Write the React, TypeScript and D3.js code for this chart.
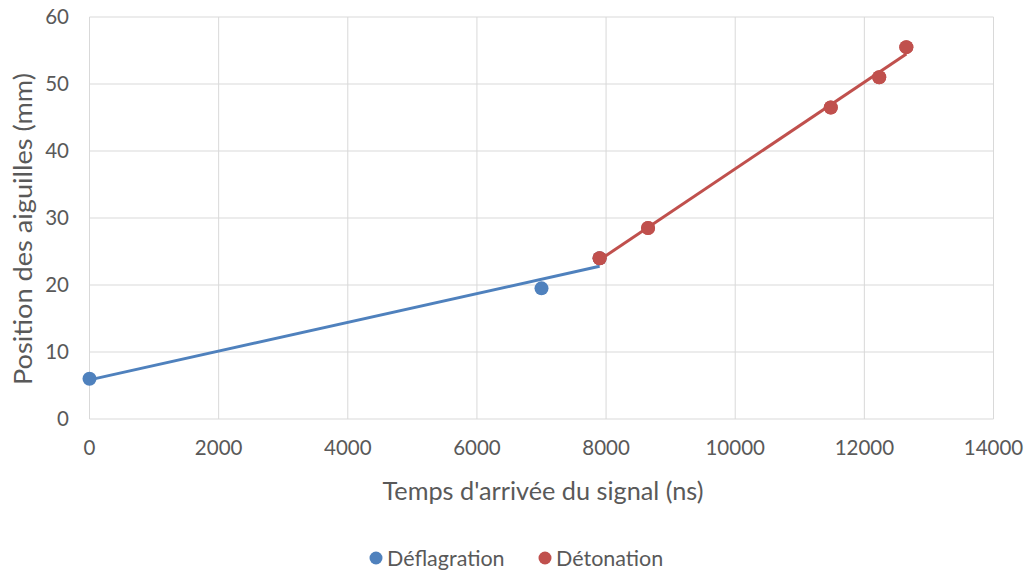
import React from "react";
import * as d3 from "d3";

const xTicks = [0, 2000, 4000, 6000, 8000, 10000, 12000, 14000];
const yTicks = [0, 10, 20, 30, 40, 50, 60];

const deflagrationX = [0, 7000, 7900];
const deflagrationY = [6, 19.5, 24];
const detonationX = [7900, 8650, 11480, 12230, 12650];
const detonationY = [24, 28.5, 46.5, 51, 55.5];

const seriesNames = ["Déflagration", "Détonation"];
const seriesColors = ["#4F81BD", "#C0504D"];

const W = 1030;
const H = 574;
const left = 89.5;
const right = 993.5;
const top = 17;
const bottom = 419;

function fit(xs: number[], ys: number[]) {
  const mx = d3.mean(xs)!;
  const my = d3.mean(ys)!;
  let sxy = 0, sxx = 0;
  xs.forEach((x, i) => {
    sxy += (x - mx) * (ys[i] - my);
    sxx += (x - mx) * (x - mx);
  });
  const slope = sxy / sxx;
  const intercept = my - slope * mx;
  const x0 = d3.min(xs)!;
  const x1 = d3.max(xs)!;
  return [
    [x0, intercept + slope * x0],
    [x1, intercept + slope * x1],
  ] as [number, number][];
}

export default function App() {
  const x = d3.scaleLinear().domain([0, 14000]).range([left, right]);
  const y = d3.scaleLinear().domain([0, 60]).range([bottom, top]);
  const line = d3
    .line<[number, number]>()
    .x((d) => x(d[0]))
    .y((d) => y(d[1]));

  const series = [
    { xs: deflagrationX, ys: deflagrationY },
    { xs: detonationX, ys: detonationY },
  ];
  const font = "Lato, 'Open Sans', sans-serif";
  const tickColor = "#595959";

  return (
    <svg
      width={W}
      height={H}
      style={{ position: "absolute", left: 0, top: 0, background: "#fff" }}
      fontFamily={font}
    >
      {yTicks.map((t) => (
        <line key={"gy" + t} x1={left} x2={right} y1={y(t)} y2={y(t)} stroke="#D9D9D9" strokeWidth={1} />
      ))}
      {xTicks.map((t) => (
        <line key={"gx" + t} x1={x(t)} x2={x(t)} y1={top} y2={bottom} stroke="#D9D9D9" strokeWidth={1} />
      ))}
      {yTicks.map((t) => (
        <text key={"ty" + t} x={69} y={y(t)} dy="0.36em" textAnchor="end" fontSize={20.5} fill={tickColor}>
          {t}
        </text>
      ))}
      {xTicks.map((t) => (
        <text key={"tx" + t} x={x(t)} y={448} dy="0.36em" textAnchor="middle" fontSize={20.5} fill={tickColor}>
          {t}
        </text>
      ))}
      <text
        x={543}
        y={491}
        dy="0.36em"
        textAnchor="middle"
        fontSize={25}
        fill={tickColor}
        textLength={321}
        lengthAdjust="spacingAndGlyphs"
      >
        Temps d'arrivée du signal (ns)
      </text>
      <text
        transform={`translate(23,229) rotate(-90)`}
        dy="0.36em"
        textAnchor="middle"
        fontSize={25}
        fill={tickColor}
        textLength={312}
        lengthAdjust="spacingAndGlyphs"
      >
        Position des aiguilles (mm)
      </text>
      {series.map((s, i) => (
        <g key={"s" + i}>
          {s.xs.map((v, j) => (
            <circle key={j} cx={x(v)} cy={y(s.ys[j])} r={7} fill={seriesColors[i]} />
          ))}
        </g>
      ))}
      {series.map((s, i) => (
        <path key={"l" + i} d={line(fit(s.xs, s.ys)) || ""} fill="none" stroke={seriesColors[i]} strokeWidth={3} />
      ))}
      {series.map((s, i) => (
        <g key={"m" + i}>
          {i === 1 &&
            s.xs.map((v, j) => (
              <circle key={j} cx={x(v)} cy={y(s.ys[j])} r={7} fill={seriesColors[i]} />
            ))}
        </g>
      ))}
      {seriesNames.map((n, i) => {
        const lx = [376, 545][i];
        return (
          <g key={"lg" + i}>
            <circle cx={lx} cy={558} r={6.5} fill={seriesColors[i]} />
            <text x={lx + 11} y={558} dy="0.36em" fontSize={21.5} fill={tickColor}>
              {n}
            </text>
          </g>
        );
      })}
    </svg>
  );
}
